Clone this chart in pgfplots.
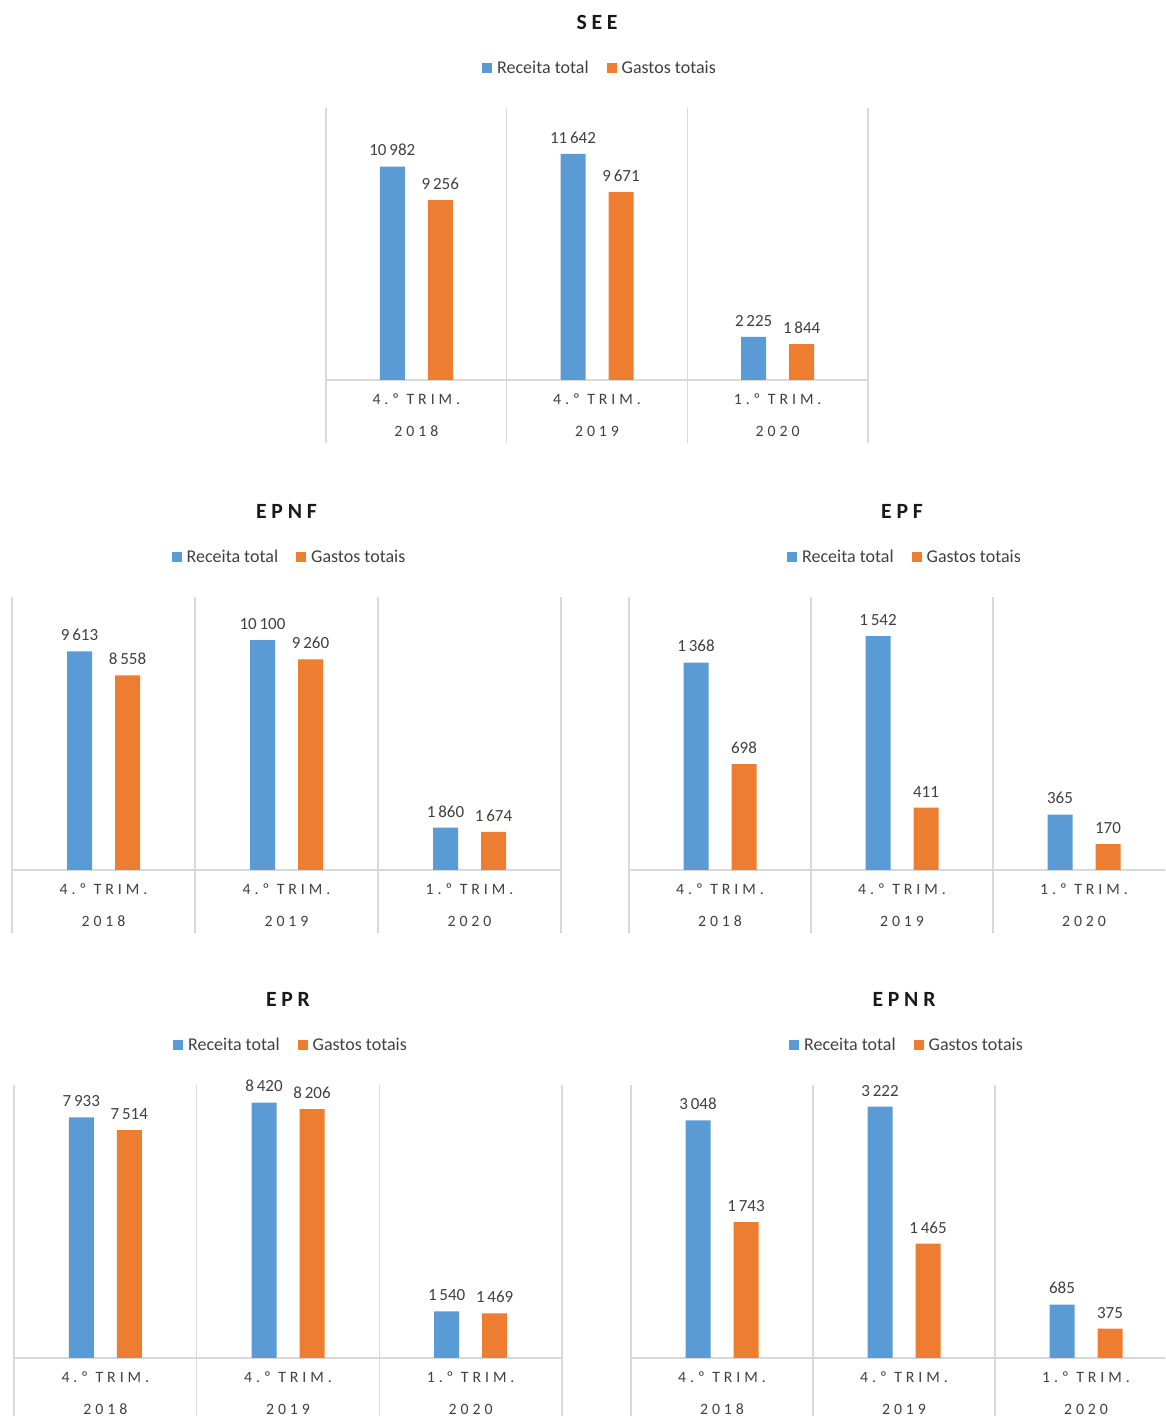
\documentclass[border=0pt]{standalone}
\usepackage{fontspec}
\setmainfont{Carlito}
\newfontfamily\spacedfont[LetterSpace=25]{Carlito}
\newfontfamily\titlefont[LetterSpace=22]{Carlito}
\usepackage{pgfplots}
\usepackage{pgfplotstable}
\pgfplotsset{compat=1.18}
\definecolor{cblue}{HTML}{5B9BD5}
\definecolor{corange}{HTML}{ED7D31}
\definecolor{gridc}{HTML}{D9D9D9}
\definecolor{txt}{HTML}{404040}

\pgfplotstableread{
x a b
0 10982 9256
1 11642 9671
2 2225 1844
}\dataSEE
\pgfplotstableread{
x a b
0 9613 8558
1 10100 9260
2 1860 1674
}\dataEPNF
\pgfplotstableread{
x a b
0 1368 698
1 1542 411
2 365 170
}\dataEPF
\pgfplotstableread{
x a b
0 7933 7514
1 8420 8206
2 1540 1469
}\dataEPR
\pgfplotstableread{
x a b
0 3048 1743
1 3222 1465
2 685 375
}\dataEPNR

\pgfplotsset{
  sq legend/.style={legend image code/.code={\fill[##1] (0pt,-5pt) rectangle (10pt,5pt);}},
  panel/.style={
    scale only axis,
    anchor=south west,
    clip=false,
    height=273pt,
    xmin=-0.5, xmax=2.5, ymin=0,
    axis y line=none,
    axis x line*=bottom,
    x axis line style={draw=gridc, line width=1.3pt, -},
    xtick={0,1,2},
    xticklabels={{4.º TRIM.\\2018},{4.º TRIM.\\2019},{1.º TRIM.\\2020}},
    major x tick style={draw=none},
    major tick length=0pt,
    minor xtick={-0.5,0.5,1.5,2.5},
    minor x tick style={draw=gridc, line width=1.3pt},
    minor tick length=63pt,
    tick align=outside,
    xminorgrids,
    minor grid style={draw=gridc, line width=1.3pt},
    xticklabel style={font=\spacedfont\fontsize{15.8}{32}\selectfont, align=center, text=txt, anchor=north, yshift=-10.5pt},
    ybar=23pt, bar width=25pt,
    /pgf/number format/.cd, 1000 sep={\,}, assume math mode=true, /pgfplots/.cd,
    nodes near coords,
    every node near coord/.append style={font=\fontsize{17}{20}\selectfont, text=txt, yshift=7pt},
    title style={at={(0.5,1)}, anchor=base, yshift=72pt, font=\titlefont\bfseries\fontsize{21.7}{26}\selectfont, text=black!90},
    legend style={at={(0.5,1)}, anchor=center, yshift=40pt, xshift=3pt, draw=none, fill=none,
      font=\fontsize{18}{21}\selectfont, text=txt,
      /tikz/every odd column/.append style={column sep=3pt},
      /tikz/every even column/.append style={column sep=16pt}},
    legend columns=2,
  }
}

\begin{document}
\begin{tikzpicture}
\useasboundingbox (0,0) rectangle (1165pt,1416pt);
\clip (0,0) rectangle (1165pt,1416pt);

\begin{axis}[panel, at={(326pt,1036pt)}, width=542pt, height=272pt, ymax=14000, title={SEE}]
\addplot[fill=cblue, draw=none, sq legend] table[x=x,y=a]{\dataSEE};
\addplot[fill=corange, draw=none, sq legend] table[x=x,y=b]{\dataSEE};
\legend{Receita total, Gastos totais}
\end{axis}

\begin{axis}[panel, at={(12pt,546pt)}, width=549pt, ymax=12000, title={EPNF}]
\addplot[fill=cblue, draw=none, sq legend] table[x=x,y=a]{\dataEPNF};
\addplot[fill=corange, draw=none, sq legend] table[x=x,y=b]{\dataEPNF};
\legend{Receita total, Gastos totais}
\end{axis}

\begin{axis}[panel, at={(629pt,546pt)}, width=546pt, ymax=1800, title={EPF}]
\addplot[fill=cblue, draw=none, sq legend] table[x=x,y=a]{\dataEPF};
\addplot[fill=corange, draw=none, sq legend] table[x=x,y=b]{\dataEPF};
\legend{Receita total, Gastos totais}
\end{axis}

\begin{axis}[panel, at={(14pt,58pt)}, width=548pt, ymax=9000, title={EPR}]
\addplot[fill=cblue, draw=none, sq legend] table[x=x,y=a]{\dataEPR};
\addplot[fill=corange, draw=none, sq legend] table[x=x,y=b]{\dataEPR};
\legend{Receita total, Gastos totais}
\end{axis}

\begin{axis}[panel, at={(631pt,58pt)}, width=546pt, ymax=3500, title={EPNR}]
\addplot[fill=cblue, draw=none, sq legend] table[x=x,y=a]{\dataEPNR};
\addplot[fill=corange, draw=none, sq legend] table[x=x,y=b]{\dataEPNR};
\legend{Receita total, Gastos totais}
\end{axis}
\end{tikzpicture}
\end{document}
